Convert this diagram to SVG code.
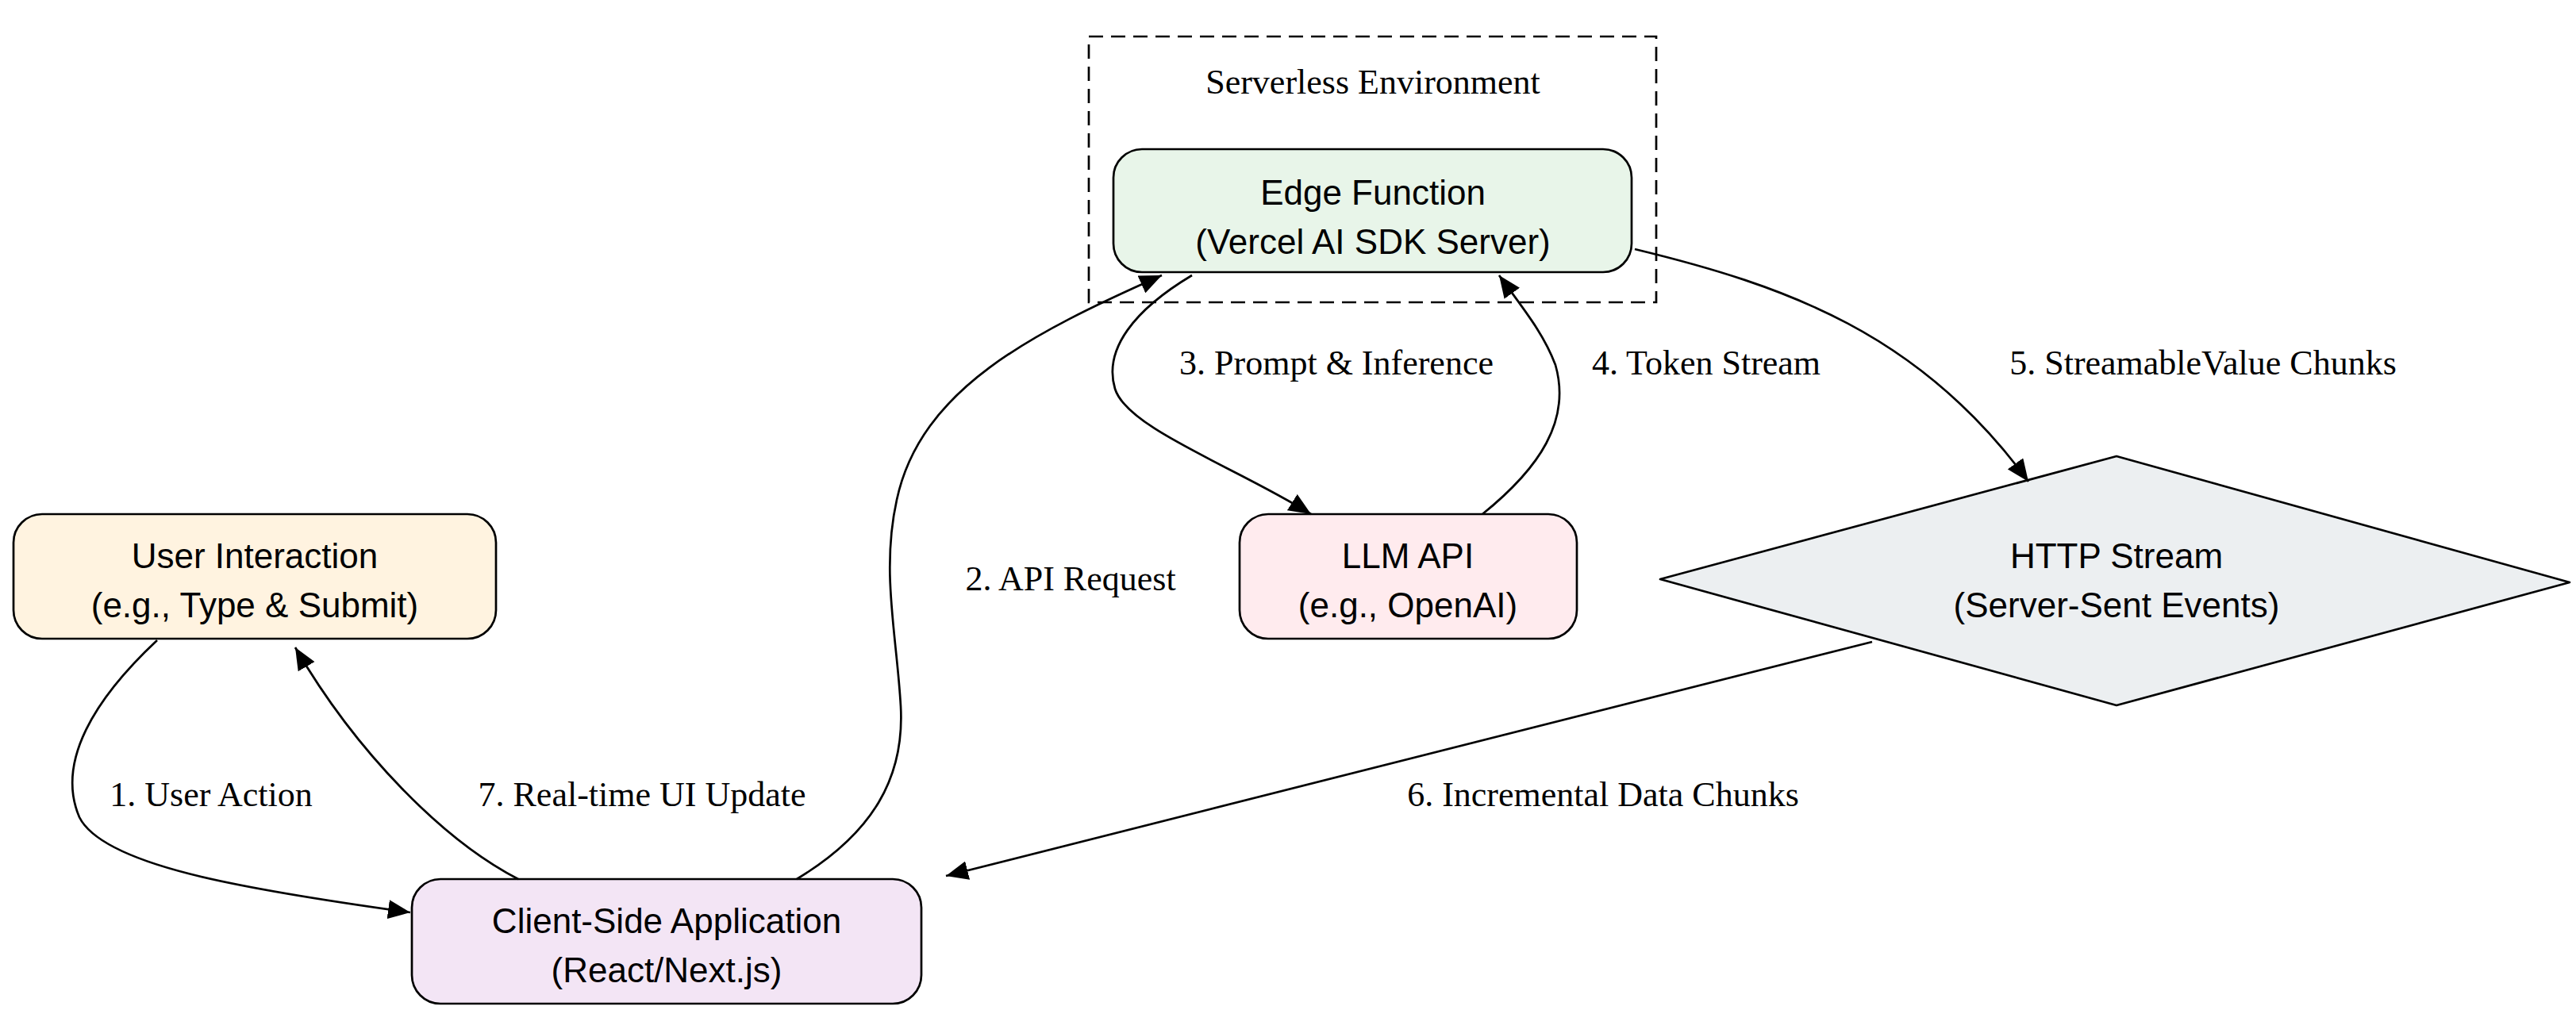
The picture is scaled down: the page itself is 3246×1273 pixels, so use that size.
<svg xmlns="http://www.w3.org/2000/svg" width="3246" height="1273" viewBox="0 0 3246 1273">
<style>
.n{stroke:#000;stroke-width:2.7}
.t{font-family:"Liberation Sans",Arial,sans-serif;font-size:44px;text-anchor:middle;fill:#000}
.l{font-family:"Liberation Serif","Times New Roman",serif;font-size:44px;text-anchor:middle;fill:#000}
.e{fill:none;stroke:#000;stroke-width:2.7;marker-end:url(#a)}
</style>
<defs>
<marker id="a" markerUnits="userSpaceOnUse" markerWidth="30" markerHeight="24" refX="28" refY="12" orient="auto">
<path d="M0,0 L28,12 L0,24 Z" fill="#000"/>
</marker>
</defs>
<rect width="3246" height="1273" fill="#fff"/>
<g id="cluster">
<rect x="1372" y="46" width="715" height="335" fill="none" stroke="#000" stroke-width="2.7" stroke-dasharray="18,10"/>
<text class="l" x="1730" y="118">Serverless Environment</text>
</g>
<g id="edge">
<rect class="n" x="1403" y="188" width="653" height="155" rx="36" fill="#e8f5e9"/>
<text class="t" x="1730" y="258">Edge Function</text>
<text class="t" x="1730" y="320">(Vercel AI SDK Server)</text>
</g>
<g id="user">
<rect class="n" x="17" y="648" width="608" height="157" rx="36" fill="#fff3e0"/>
<text class="t" x="321" y="716">User Interaction</text>
<text class="t" x="321" y="778">(e.g., Type &amp; Submit)</text>
</g>
<g id="llm">
<rect class="n" x="1562" y="648" width="425" height="157" rx="36" fill="#ffebee"/>
<text class="t" x="1774" y="716">LLM API</text>
<text class="t" x="1774" y="778">(e.g., OpenAI)</text>
</g>
<g id="http">
<polygon class="n" points="2667,575 3238,734 2667,889 2092,730" fill="#eceff1" stroke-linejoin="round"/>
<text class="t" x="2667" y="716">HTTP Stream</text>
<text class="t" x="2667" y="778">(Server-Sent Events)</text>
</g>
<g id="client">
<rect class="n" x="519" y="1108" width="642" height="157" rx="36" fill="#f3e5f5"/>
<text class="t" x="840" y="1176">Client-Side Application</text>
<text class="t" x="840" y="1238">(React/Next.js)</text>
</g>
<g id="connectors">
<path class="e" d="M198,807 C120,880 70,960 100,1030 C130,1090 300,1120 517,1150"/>
<path class="e" d="M653,1108 C560,1060 450,950 372,816"/>
<path class="e" d="M1004,1108 C1100,1050 1140,980 1135,890 C1130,800 1110,720 1130,630 C1160,490 1300,420 1464,347"/>
<path class="e" d="M1502,347 C1430,390 1390,440 1405,490 C1420,540 1560,590 1652,648"/>
<path class="e" d="M1868,648 C1940,590 1980,530 1960,460 C1945,420 1920,390 1889,347"/>
<path class="e" d="M2060,314 C2250,360 2420,420 2556,607"/>
<path class="e" d="M2359,809 L1192,1104"/>
<text class="l" x="266" y="1016">1. User Action</text>
<text class="l" x="809" y="1016">7. Real-time UI Update</text>
<text class="l" x="1349" y="744">2. API Request</text>
<text class="l" x="1684" y="472">3. Prompt &amp; Inference</text>
<text class="l" x="2150" y="472">4. Token Stream</text>
<text class="l" x="2776" y="472">5. StreamableValue Chunks</text>
<text class="l" x="2020" y="1016">6. Incremental Data Chunks</text>
</g>
</svg>
